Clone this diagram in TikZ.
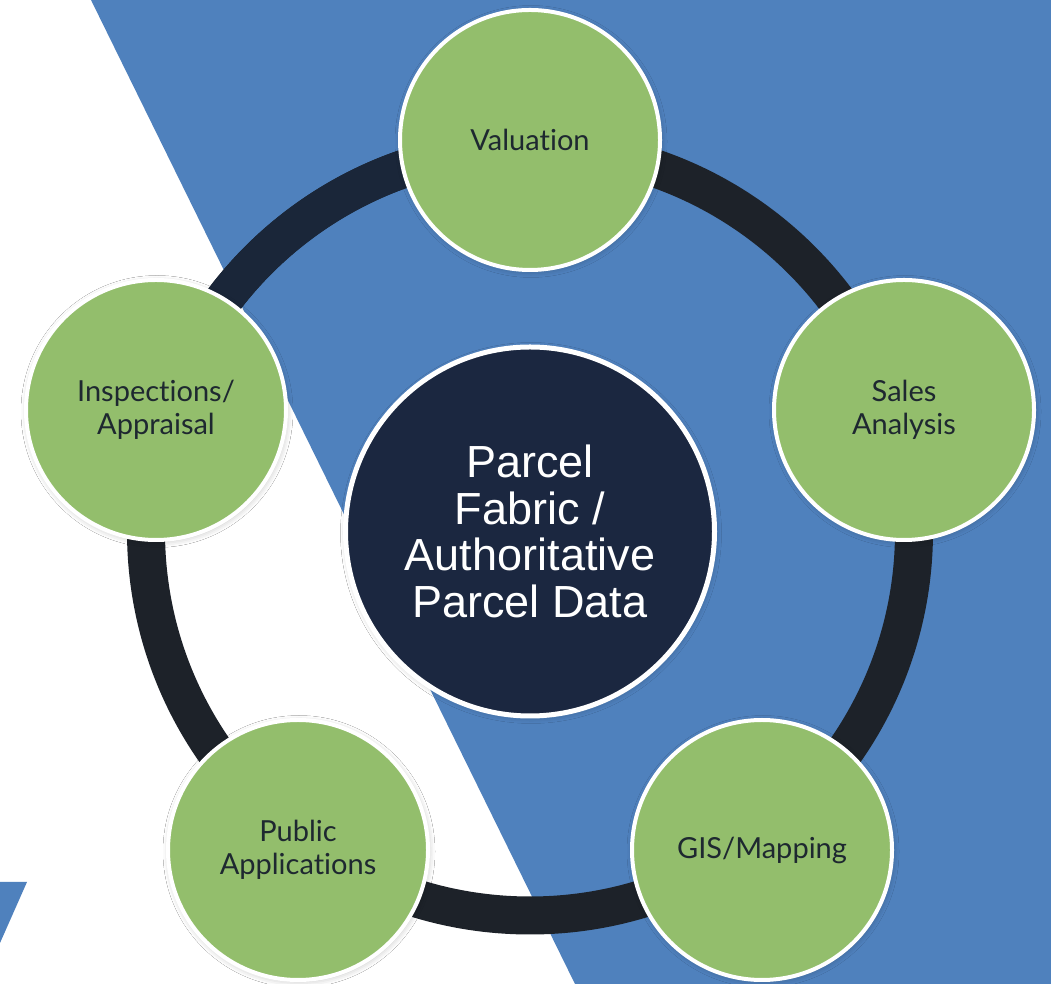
\documentclass[tikz,border=0pt]{standalone}
\usepackage{fontspec}
\setmainfont{Lato}[Ligatures=NoCommon]
\newfontfamily\arialf{Liberation Sans}
\usetikzlibrary{shadows.blur}
\definecolor{bgblue}{HTML}{4F81BD}
\definecolor{leaf}{HTML}{93BE6C}
\definecolor{navyfill}{HTML}{1B2740}
\definecolor{ringgray}{HTML}{1D2229}
\definecolor{ringnavy}{HTML}{1A2639}
\definecolor{labeltext}{HTML}{1E2830}
\tikzset{
  ring/.style={line width=38pt, draw=ringgray},
  ringupper/.style={line width=38pt, draw=ringnavy},
  softshadow/.style={blur shadow={shadow xshift=1pt, shadow yshift=-1.5pt, shadow blur radius=6pt, shadow opacity=25}},
  leafnode/.style={circle, fill=leaf, draw=white, line width=4pt, inner sep=0pt,
    minimum size=260pt, align=center, text=labeltext,
    font=\fontsize{29}{33}\selectfont, softshadow},
  hubnode/.style={circle, fill=navyfill, draw=white, line width=5pt, inner sep=0pt,
    minimum size=369pt, align=center, text=white,
    font=\arialf\fontsize{45}{46.7}\selectfont, softshadow},
  bgshape/.style={fill=bgblue, draw=none}
}
\begin{document}
\begin{tikzpicture}[x=1pt, y=1pt]
\useasboundingbox (0,0) rectangle (1051,984);
\fill[white] (0,0) rectangle (1051,984);
% background shapes
\fill[bgshape] (91,984) -- (1051,984) -- (1051,0) -- (575,0) -- cycle;
\fill[bgshape] (0,102) -- (27,102) -- (0,41) -- cycle;
% ring
\coordinate (c) at (530,452.5);
\draw[ring] (c) circle[radius=384];
\draw[ringupper] ([shift={(162:384)}]c) arc[start angle=162, end angle=90, radius=384];
% hub
\node[hubnode] (hub) at (c) {Parcel\\Fabric /\\Authoritative\\Parcel Data};
% outer nodes
\node[leafnode] (val) at (530,844) {Valuation};
\node[leafnode] (sales) at (904,574) {Sales\\Analysis};
\node[leafnode] (gis) at (762,134) {GIS/Mapping};
\node[leafnode] (pub) at (298,134) {Public\\Applications};
\node[leafnode] (insp) at (156,574) {Inspections/\\Appraisal};
\end{tikzpicture}
\end{document}
